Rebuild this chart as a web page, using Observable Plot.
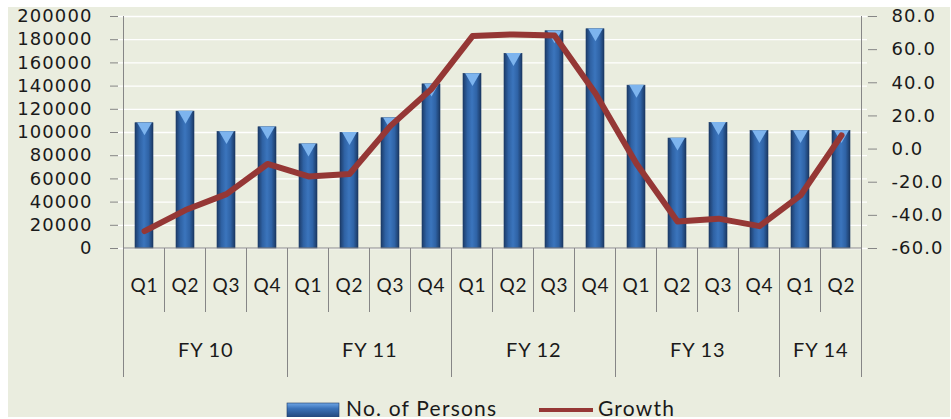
<!DOCTYPE html>
<html>
<head>
<meta charset="utf-8">
<script src="https://cdn.jsdelivr.net/npm/d3@7"></script>
<script src="https://cdn.jsdelivr.net/npm/@observablehq/plot@0.6"></script>
<style>
  html, body { margin: 0; padding: 0; background: #ffffff; }
  #frame { position: absolute; left: 8px; top: 7px; width: 942px; height: 410px; background: #eaeddf; overflow: hidden; }
  #chart { position: absolute; left: 0; top: 0; }
  #chart svg { display: block; }
  #chart g[aria-label="y-axis tick label"] text { letter-spacing: 1.1px; }
  #chart g.qlab text { letter-spacing: 0.8px; }
  #legend { position: absolute; left: 0; top: 385px; }
</style>
</head>
<body>
<div id="frame">
  <div id="chart"></div>
  <svg id="legend" width="942" height="30"></svg>
</div>
<script>
// ---- data ----
const years    = ["FY 10","FY 10","FY 10","FY 10","FY 11","FY 11","FY 11","FY 11","FY 12","FY 12","FY 12","FY 12","FY 13","FY 13","FY 13","FY 13","FY 14","FY 14"];
const quarters = ["Q1","Q2","Q3","Q4","Q1","Q2","Q3","Q4","Q1","Q2","Q3","Q4","Q1","Q2","Q3","Q4","Q1","Q2"];
const persons  = [108000,118000,100500,104500,89800,99700,112300,141500,150500,167800,187300,189000,140400,94800,108300,101300,101300,101300];
const growth   = [-49.5,-36.8,-27.2,-9.0,-16.5,-15.0,14.0,36.3,68.2,69.2,68.5,33.6,-8.8,-43.7,-42.0,-46.5,-28.0,8.3];
const leftTicks  = [0,20000,40000,60000,80000,100000,120000,140000,160000,180000,200000];
const rightTicks = [-60,-40,-20,0,20,40,60,80];
const leftDomain  = [0, 200000];
const rightDomain = [-60, 80];
const seriesNames = ["No. of Persons", "Growth"];

// ---- layout ----
const W = 942, H = 385, ML = 110, MR = 83, MT = 9, MB = 144;
const keys = years.map((y, i) => y + " " + quarters[i]);
const data = keys.map((k, i) => ({key: k, year: years[i], quarter: quarters[i], persons: persons[i], growth: growth[i]}));
const step = (W - ML - MR) / keys.length;

// map the growth (right axis) values onto the left y scale
const toLeft = g => leftDomain[0] + (g - rightDomain[0]) / (rightDomain[1] - rightDomain[0]) * (leftDomain[1] - leftDomain[0]);
const fromLeft = v => rightDomain[0] + (v - leftDomain[0]) / (leftDomain[1] - leftDomain[0]) * (rightDomain[1] - rightDomain[0]);

// year label anchors: the quarter at the middle of each fiscal year, shifted half a step left
const yearNames = Array.from(new Set(years));
const yearLabels = yearNames.map(y => {
  const ks = data.filter(d => d.year === y);
  return {year: y, key: ks[Math.floor(ks.length / 2)].key};
});

const plot = Plot.plot({
  width: W, height: H,
  marginLeft: ML, marginRight: MR, marginTop: MT, marginBottom: MB,
  style: {background: "transparent", fontFamily: "'DejaVu Sans', sans-serif", color: "#1a1a1a", overflow: "visible"},
  x: {type: "band", domain: keys, paddingInner: 0.57, paddingOuter: 0.285, axis: null},
  y: {domain: leftDomain, axis: null, label: null},
  marks: [
    Plot.gridY(leftTicks, {stroke: "#ffffff", strokeOpacity: 1, strokeWidth: 1.3}),
    Plot.barY(data, {x: "key", y: "persons", fill: "url(#barGrad)", stroke: "#1b3a66", strokeWidth: 0.6}),
    Plot.dot(data, {x: "key", y: "persons", symbol: "triangle", rotate: 180, r: 5.5, fill: "#7db4ee", dy: 3.5}),
    Plot.lineY(data, {x: "key", y: d => toLeft(d.growth), stroke: "#953735", strokeWidth: 6, strokeLinejoin: "round"}),
    Plot.axisY(leftTicks, {anchor: "left", label: null, tickSize: 8, tickPadding: 18, stroke: "#868686", fill: "#1a1a1a", fontSize: 18, tickFormat: d => String(d)}),
    Plot.axisY(rightTicks.map(toLeft), {anchor: "right", label: null, tickSize: 9, tickPadding: 15, stroke: "#868686", fill: "#1a1a1a", fontSize: 18, tickFormat: v => (Math.round(fromLeft(v) * 10) / 10).toFixed(1)}),
    Plot.text(data, {x: "key", text: "quarter", frameAnchor: "bottom", dy: 37, lineAnchor: "middle", fontSize: 19, fontFamily: "Lato", fill: "#1a1a1a", className: "qlab"}),
    Plot.text(yearLabels, {x: "key", text: "year", frameAnchor: "bottom", dy: 102, dx: -step / 2, lineAnchor: "middle", fontSize: 20, fontFamily: "Lato", fill: "#1a1a1a", className: "qlab"})
  ]
});

const svg = d3.select(plot);
// gradient for the bars
const defs = svg.insert("defs", ":first-child");
const grad = defs.append("linearGradient").attr("id", "barGrad").attr("x1", 0).attr("x2", 1).attr("y1", 0).attr("y2", 0);
[[0, "#1c3c6a"], [0.25, "#2f62a4"], [0.5, "#3b75bd"], [0.75, "#2f63a6"], [1, "#1b3964"]]
  .forEach(([o, c]) => grad.append("stop").attr("offset", o).attr("stop-color", c));

// hierarchical x axis separators + frame edges, positioned with Plot's x scale
const xs = plot.scale("x");
const bw = xs.bandwidth != null ? xs.bandwidth : step * 0.43;
const st = xs.step != null ? xs.step : step;
const y0 = H - MB;
const g = svg.append("g").attr("stroke", "#868686").attr("stroke-width", 1).attr("fill", "none");
const xLeft = xs.apply(keys[0]) + bw / 2 - st / 2;
const xRight = xs.apply(keys[keys.length - 1]) + bw / 2 + st / 2;
g.append("line").attr("x1", xLeft).attr("x2", xRight).attr("y1", y0).attr("y2", y0);
g.append("line").attr("x1", xLeft).attr("x2", xLeft).attr("y1", MT).attr("y2", y0);
g.append("line").attr("x1", xRight).attr("x2", xRight).attr("y1", MT).attr("y2", y0 + 129);
data.forEach((d, i) => {
  const xb = xs.apply(d.key) + bw / 2 - st / 2;
  const yearStart = i === 0 || d.year !== data[i - 1].year;
  g.append("line").attr("x1", xb).attr("x2", xb).attr("y1", y0).attr("y2", y0 + (yearStart ? 129 : 64));
});

document.getElementById("chart").appendChild(plot);

// legend
const lg = d3.select("#legend");
const lgGrad = lg.append("defs").append("linearGradient").attr("id", "lgGrad").attr("x1", 0).attr("x2", 0).attr("y1", 0).attr("y2", 1);
[[0, "#6fa6e6"], [0.35, "#3a72b8"], [1, "#1d3f70"]].forEach(([o, c]) => lgGrad.append("stop").attr("offset", o).attr("stop-color", c));
lg.append("rect").attr("x", 279).attr("y", 11).attr("width", 52).attr("height", 16).attr("fill", "url(#lgGrad)").attr("stroke", "#1b3a66").attr("stroke-width", 0.6);
lg.append("text").attr("x", 338).attr("y", 24).attr("font-family", "Lato").attr("font-size", 21).attr("letter-spacing", "1.2px").attr("fill", "#1a1a1a").text(seriesNames[0]);
lg.append("line").attr("x1", 531).attr("x2", 585).attr("y1", 18).attr("y2", 18).attr("stroke", "#953735").attr("stroke-width", 4);
lg.append("text").attr("x", 590).attr("y", 24).attr("font-family", "Lato").attr("font-size", 21).attr("letter-spacing", "1.2px").attr("fill", "#1a1a1a").text(seriesNames[1]);
</script>
</body>
</html>
